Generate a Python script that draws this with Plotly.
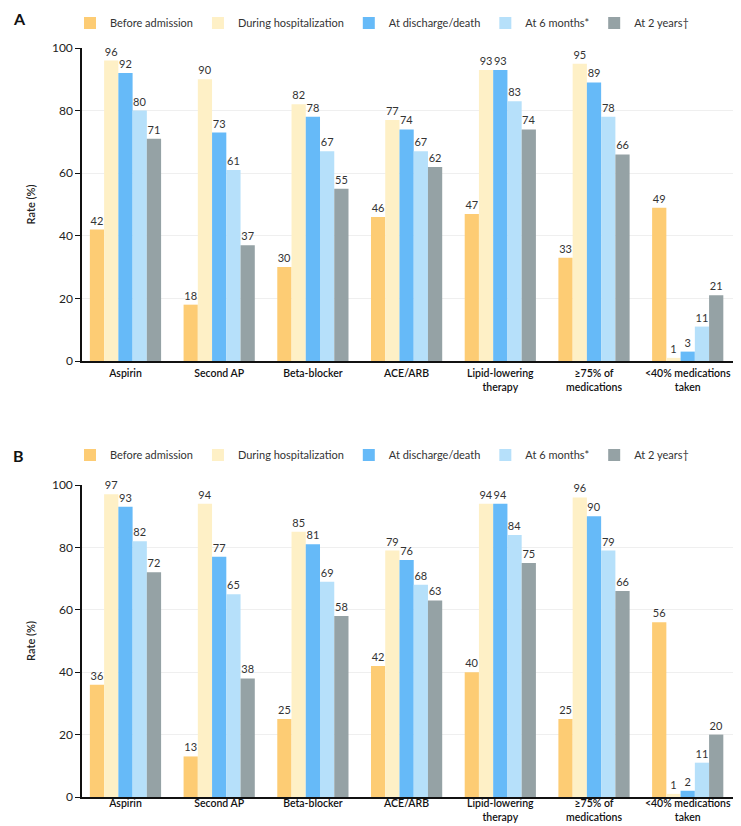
import plotly.graph_objects as go

categories = ["Aspirin", "Second AP", "Beta-blocker", "ACE/ARB",
              "Lipid-lowering<br>therapy", "≥75% of<br>medications", "&lt;40% medications<br>taken"]
series_names = ["Before admission", "During hospitalization", "At discharge/death",
                "At 6 months*", "At 2 years†"]
colors = ["#FDCC74", "#FEF0C6", "#66BAF8", "#B6E0FA", "#95A2A5"]

a_before = [42, 18, 30, 46, 47, 33, 49]
a_during = [96, 90, 82, 77, 93, 95, 1]
a_discharge = [92, 73, 78, 74, 93, 89, 3]
a_6m = [80, 61, 67, 67, 83, 78, 11]
a_2y = [71, 37, 55, 62, 74, 66, 21]

b_before = [36, 13, 25, 42, 40, 25, 56]
b_during = [97, 94, 85, 79, 94, 96, 1]
b_discharge = [93, 77, 81, 76, 94, 90, 2]
b_6m = [82, 65, 69, 68, 84, 79, 11]
b_2y = [72, 38, 58, 63, 75, 66, 20]

y_ticks = [0, 20, 40, 60, 80, 100]

FONT = "Lato"
W, H = 741, 826

fig = go.Figure()
xs = list(range(len(categories)))

panels = [
    ([a_before, a_during, a_discharge, a_6m, a_2y], "x", "y", "legend"),
    ([b_before, b_during, b_discharge, b_6m, b_2y], "x2", "y2", "legend2"),
]
for vals, xa, ya, lg in panels:
    for name, v, c in zip(series_names, vals, colors):
        fig.add_trace(go.Bar(
            x=xs, y=v, name=name, marker=dict(color=c, line=dict(width=0)),
            text=[str(t) for t in v], textposition="outside", cliponaxis=False,
            textfont=dict(family=FONT, size=11, color="#333333"),
            xaxis=xa, yaxis=ya, legend=lg,
        ))

def py(px):
    return 1 - px / H

def px_(x):
    return x / W

xrange = [-0.464, 6.654]
common_x = dict(tickmode="array", tickvals=xs, ticktext=categories, range=xrange,
                showline=True, linecolor="#111111", linewidth=1.5, ticks="",
                tickfont=dict(family=FONT, size=10.5, color="#111111", weight=600),
                showgrid=False, zeroline=False, fixedrange=True, automargin=False)
common_y = dict(range=[0, 100], tickvals=y_ticks, showline=True, linecolor="#111111",
                linewidth=1.5, ticks="outside", ticklen=5, tickcolor="#111111",
                tickfont=dict(family=FONT, size=12, color="#222222"),
                showgrid=True, gridcolor="#EFEFEF", gridwidth=1, zeroline=False, automargin=False,
                title=dict(text="Rate (%)", font=dict(family=FONT, size=11, color="#222222", weight=600),
                           standoff=14))

leg_common = dict(orientation="h", xref="paper", yref="paper", xanchor="left", yanchor="middle",
                  font=dict(family=FONT, size=11, color="#333333"),
                  itemwidth=30, bgcolor="rgba(0,0,0,0)")

fig.update_layout(
    width=W, height=H, margin=dict(l=0, r=0, t=0, b=0, autoexpand=False),
    plot_bgcolor="white", paper_bgcolor="white",
    barmode="group", bargap=0.24, bargroupgap=0,
    xaxis=dict(domain=[px_(74), 1], anchor="y", ticklabelstandoff=2, **common_x),
    yaxis=dict(domain=[py(353), py(40)], anchor="x", **common_y),
    xaxis2=dict(domain=[px_(74), 1], anchor="y2", ticklabelstandoff=-4, **common_x),
    yaxis2=dict(domain=[py(789), py(477)], anchor="x2", **common_y),
    legend=dict(x=px_(62), y=py(15), **leg_common),
    legend2=dict(x=px_(62), y=py(447), **leg_common),
    annotations=[
        dict(text="A", xref="paper", yref="paper", x=px_(3), y=py(10), showarrow=False,
             xanchor="left", yanchor="middle", font=dict(family=FONT, size=16, color="#111111", weight=700)),
        dict(text="B", xref="paper", yref="paper", x=px_(3), y=py(447), showarrow=False,
             xanchor="left", yanchor="middle", font=dict(family=FONT, size=16, color="#111111", weight=700)),
    ],
)

fig.write_html("out.html")
